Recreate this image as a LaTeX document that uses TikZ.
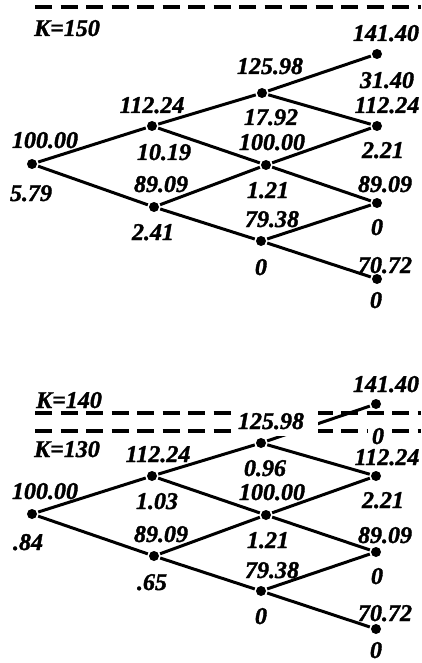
\documentclass[tikz,border=0pt]{standalone}
\usepackage{fontspec}
\setmainfont[BoldItalicFeatures={FakeBold=1.5}]{Liberation Serif}
\begin{document}
\begin{tikzpicture}[x=1pt, y=-1pt, line width=3pt,
    font=\fontsize{24}{28}\selectfont\bfseries\itshape]
        \tikzset{
            vtx/.style   ={circle, fill, inner sep=0pt, minimum size=10pt},
            lbl/.style   ={inner sep=0pt, text height=16pt, text depth=0pt},
            cover/.style ={lbl, fill=white},
            strike/.style={line width=4pt, dash pattern=on 17pt off 8.5pt}
        }
        \useasboundingbox (0,0) rectangle (421,663);
        %% ---- Arbol K=150: nodos ----
        \node[vtx] (s0)  at (32,164)  {};
        \node[vtx] (s1u) at (152,126) {};
        \node[vtx] (s1d) at (154,207) {};
        \node[vtx] (s2u) at (262,93)  {};
        \node[vtx] (s2m) at (266,165) {};
        \node[vtx] (s2d) at (261,241) {};
        \node[vtx] (s3a) at (377,54)  {};
        \node[vtx] (s3b) at (377,126) {};
        \node[vtx] (s3c) at (377,203) {};
        \node[vtx] (s3d) at (377,279) {};
        %% ---- Arbol K=150: ramas ----
        \draw (s0) -- (s1u) -- (s2u) -- (s3a);
        \draw (s0) -- (s1d) -- (s2d) -- (s3d);
        \draw (s1u) -- (s2m) -- (s3c);
        \draw (s1d) -- (s2m) -- (s3b);
        \draw (s2u) -- (s3b);
        \draw (s2d) -- (s3c);
        %% ---- Strike 150 ----
        \coordinate (ka)  at (35,7);
        \coordinate (kae) at (421,7);
        \draw[strike] (ka) -- (kae);
        \node[lbl] (kA) at (67,28) {K=150};
        %% ---- Arbol K=150: precios y valores ----
        \node[lbl] (p0)  at (45,140)  {100.00};
        \node[lbl] (v0)  at (31,193)  {5.79};
        \node[lbl] (p1u) at (152,105) {112.24};
        \node[lbl] (v1u) at (164,152) {10.19};
        \node[lbl] (p1d) at (161,184) {89.09};
        \node[lbl] (v1d) at (153,232) {2.41};
        \node[lbl] (p2u) at (270,66)  {125.98};
        \node[lbl] (v2u) at (271,117) {17.92};
        \node[lbl] (p2m) at (272,142) {100.00};
        \node[lbl] (v2m) at (268,190) {1.21};
        \node[lbl] (p2d) at (272,219) {79.38};
        \node[lbl] (v2d) at (261,267) {0};
        \node[lbl] (p3a) at (386,33)  {141.40};
        \node[lbl] (v3a) at (387,80)  {31.40};
        \node[lbl] (p3b) at (387,105) {112.24};
        \node[lbl] (v3b) at (383,150) {2.21};
        \node[lbl] (p3c) at (385,184) {89.09};
        \node[lbl] (v3c) at (377,227) {0};
        \node[lbl] (p3d) at (385,265) {70.72};
        \node[lbl] (v3d) at (376,300) {0};
        %% ---- Arbol K=140/130: nodos ----
        \node[vtx] (t0)  at (32,514)  {};
        \node[vtx] (t1u) at (152,476) {};
        \node[vtx] (t1d) at (154,556) {};
        \node[vtx] (t2u) at (261,443) {};
        \node[vtx] (t2m) at (266,515) {};
        \node[vtx] (t2d) at (261,591) {};
        \node[vtx] (t3a) at (376,404) {};
        \node[vtx] (t3b) at (376,476) {};
        \node[vtx] (t3c) at (376,552) {};
        \node[vtx] (t3d) at (376,629) {};
        %% ---- Strikes 140 y 130 ----
        \coordinate (kb)  at (35,413);
        \coordinate (kbe) at (421,413);
        \coordinate (kc)  at (35,431);
        \coordinate (kce) at (421,431);
        \draw[strike] (kb) -- (kbe);
        \draw[strike] (kc) -- (kce);
        \node[lbl] (kB) at (69,400) {K=140};
        \node[lbl] (kC) at (67,449) {K=130};
        %% ---- Arbol K=140/130: ramas ----
        \draw (t0) -- (t1u) -- (t2u) -- (t3a);
        \draw (t0) -- (t1d) -- (t2d) -- (t3d);
        \draw (t1u) -- (t2m) -- (t3c);
        \draw (t1d) -- (t2m) -- (t3b);
        \draw (t2u) -- (t3b);
        \draw (t2d) -- (t3c);
        %% ---- Arbol K=140/130: precios y valores ----
        \node[lbl] (q0)  at (45,491)  {100.00};
        \node[lbl] (w0)  at (28,542)  {.84};
        \node[lbl] (q1u) at (158,454) {112.24};
        \node[lbl] (w1u) at (157,501) {1.03};
        \node[lbl] (q1d) at (161,534) {89.09};
        \node[lbl] (w1d) at (152,582) {.65};
        \node[cover, text width=78pt, align=left, inner xsep=2pt, inner ysep=7pt]
            (q2u) at (277,421) {125.98};
        \node[lbl] (w2u) at (265,468) {0.96};
        \node[lbl] (q2m) at (272,492) {100.00};
        \node[lbl] (w2m) at (268,540) {1.21};
        \node[lbl] (q2d) at (272,570) {79.38};
        \node[lbl] (w2d) at (261,616) {0};
        \node[lbl] (q3a) at (386,384) {141.40};
        \node[cover, inner xsep=4pt, inner ysep=2pt] (w3a) at (378,436) {0};
        \node[lbl] (q3b) at (387,457) {112.24};
        \node[lbl] (w3b) at (383,500) {2.21};
        \node[lbl] (q3c) at (385,535) {89.09};
        \node[lbl] (w3c) at (377,576) {0};
        \node[lbl] (q3d) at (385,613) {70.72};
        \node[lbl] (w3d) at (376,650) {0};
    \end{tikzpicture}
\end{document}
